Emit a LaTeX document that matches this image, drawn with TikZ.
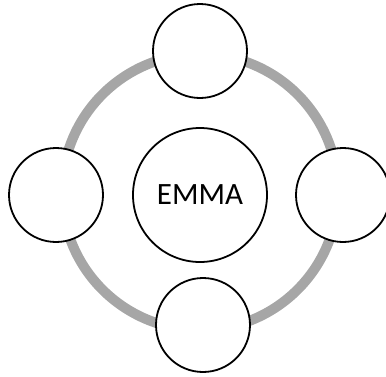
\documentclass[tikz,border=0pt]{standalone}
\usepackage{fontspec}
\setmainfont{Carlito}
\usepackage{tikz}

\begin{document}
\begin{tikzpicture}[x=1pt,y=-1pt,
  bubble/.style={circle, draw=black, line width=1.8pt, fill=white, minimum size=94pt, inner sep=0pt},
  hub/.style={bubble, minimum size=134pt, font=\fontsize{31}{36}\selectfont}]
\useasboundingbox (0,0) rectangle (386,376);
% Anel cinzento
\coordinate (O) at (200,192);
\draw[line width=10pt, black!35] (O) circle (138pt);

% Círculo central
\node[hub] (emma) at (200,195) {EMMA};

% Círculos à volta
\foreach \name/\pos in {top/{(200,51)}, bottom/{(203,325)}, west/{(56,195)}, east/{(343,195)}} {
    \node[bubble] (\name) at \pos {};
}
\end{tikzpicture}
\end{document}
